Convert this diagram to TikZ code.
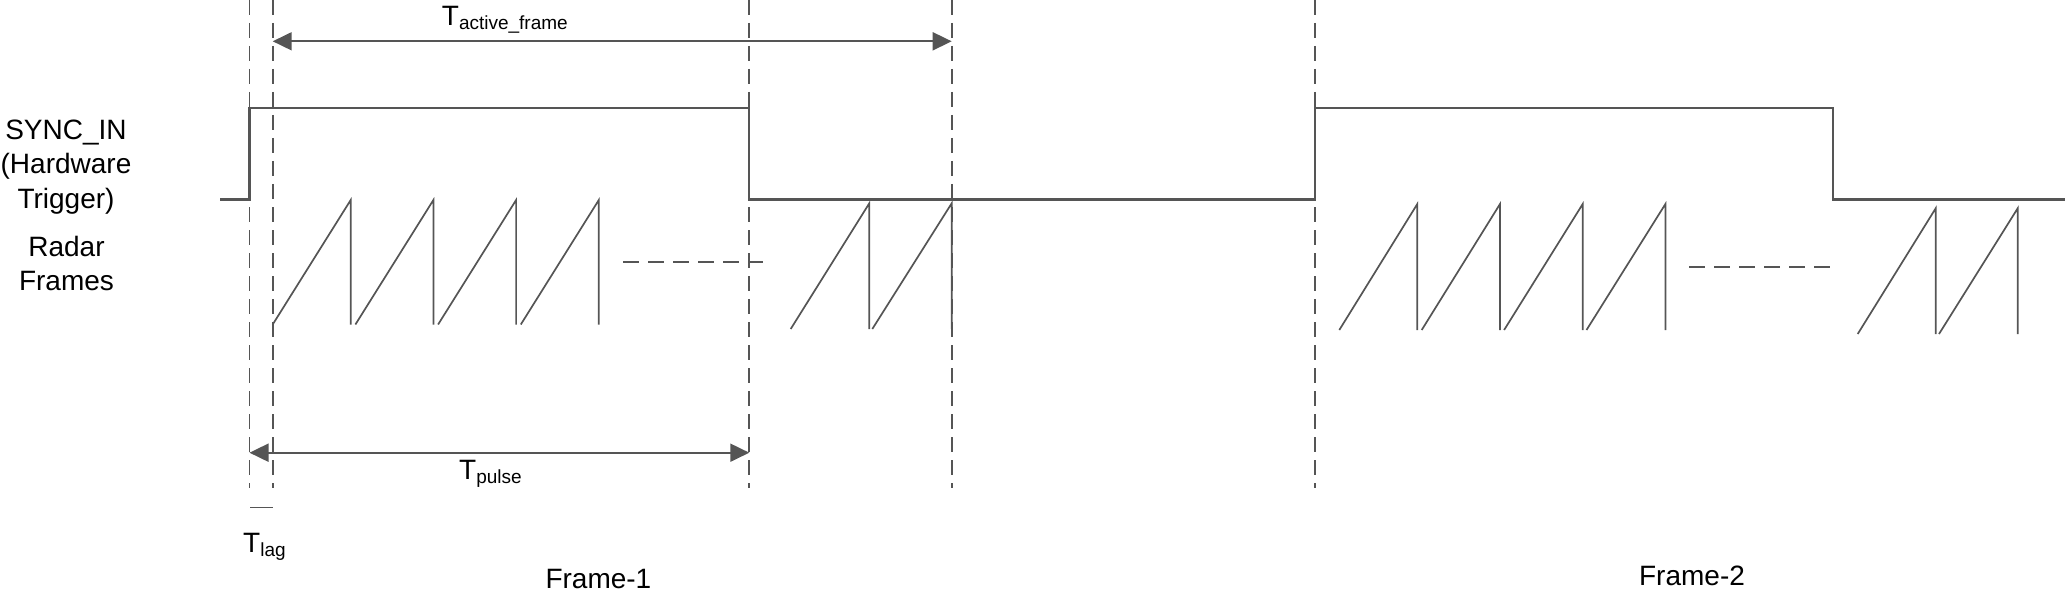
\documentclass[tikz,border=0pt]{standalone}
\usepackage{fontspec}
\setmainfont{Liberation Sans}
\usetikzlibrary{arrows.meta}
\definecolor{sggray}{RGB}{85,85,85}
\newcommand\tsub[1]{\raisebox{-4pt}{\fontsize{19}{19}\selectfont #1}}

\begin{document}
\begin{tikzpicture}[x=1pt,y=-1pt,
  txt/.style={font=\fontsize{28}{34.5}\selectfont,inner sep=0pt,align=center},
  sig/.style={draw=sggray,line width=2.2pt},
  ramp/.style={draw=sggray,line width=1.7pt},
  guide/.style={draw=sggray,line width=1.8pt,dash pattern=on 15pt off 8pt},
  gap/.style={draw=sggray,line width=2pt,dash pattern=on 16pt off 9pt},
  span/.style={{Triangle[length=19pt,width=18pt]}-{Triangle[length=19pt,width=18pt]},
    draw=sggray,line width=1.9pt}]
  \useasboundingbox (0,0) rectangle (2065,591);
  % vertical time marks
  \foreach \x/\n in {249.5/a,272.7/b,749.3/c,951.7/d,1315/e}{
    \coordinate (\n top) at (\x,0);
    \coordinate (\n bot) at (\x,488);
    \draw[guide] (\n top)--(\n bot);
  }
  % SYNC_IN pulse train
  \draw[sig] (220,199.5)--(249.5,199.5)--(249.5,108)--(749.3,108)--(749.3,199.5)
    --(1315,199.5)--(1315,108)--(1833.3,108)--(1833.3,199.5)--(2065,199.5);
  % radar frames, frame-1
  \foreach \i in {0,...,3}
    \draw[ramp] (272.7+82.7*\i,324.5)--(350.7+82.7*\i,200)--(350.7+82.7*\i,324.5);
  \draw[ramp] (790.7,329)--(869.3,203.3)--(869.3,329);
  \draw[ramp] (872.3,329)--(951.7,203.3)--(951.7,329);
  \coordinate (dots1a) at (623,262);
  \coordinate (dots1b) at (763,262);
  \draw[gap] (dots1a)--(dots1b);
  % radar frames, frame-2
  \foreach \i in {0,...,3}
    \draw[ramp] (1339.3+82.4*\i,330)--(1417.3+82.7*\i,204)--(1417.3+82.7*\i,330);
  \draw[ramp] (1857.7,334)--(1935.7,208.3)--(1935.7,334);
  \draw[ramp] (1939,334)--(2017.7,208.3)--(2017.7,334);
  \coordinate (dots2a) at (1689,267);
  \coordinate (dots2b) at (1831,267);
  \draw[gap] (dots2a)--(dots2b);
  % timing spans
  \coordinate (act1) at (272.7,41.3);
  \coordinate (act2) at (951.7,41.3);
  \draw[span] (act1)--(act2);
  \coordinate (pul1) at (249.5,452.7);
  \coordinate (pul2) at (749.3,452.7);
  \draw[span] (pul1)--(pul2);
  \coordinate (lag1) at (250,507);
  \coordinate (lag2) at (273,507);
  \draw[draw=sggray,line width=1pt] (lag1)--(lag2);
  % labels
  \node[txt,anchor=base] (sync) at (66,208) {SYNC\_IN\\(Hardware\\Trigger)};
  \node[txt,anchor=base,font=\fontsize{28}{33.5}\selectfont] (radar) at (66.5,290) {Radar\\Frames};
  \node[txt,anchor=base west] (tact) at (441.7,26) {T\tsub{active\_frame}};
  \node[txt,anchor=base west] (tpul) at (459,479) {T\tsub{pulse}};
  \node[txt,anchor=base west] (tlag) at (243,552) {T\tsub{lag}};
  \node[txt,anchor=base] (frm1) at (598.4,588) {Frame-1};
  \node[txt,anchor=base] (frm2) at (1692,585) {Frame-2};
\end{tikzpicture}
\end{document}
